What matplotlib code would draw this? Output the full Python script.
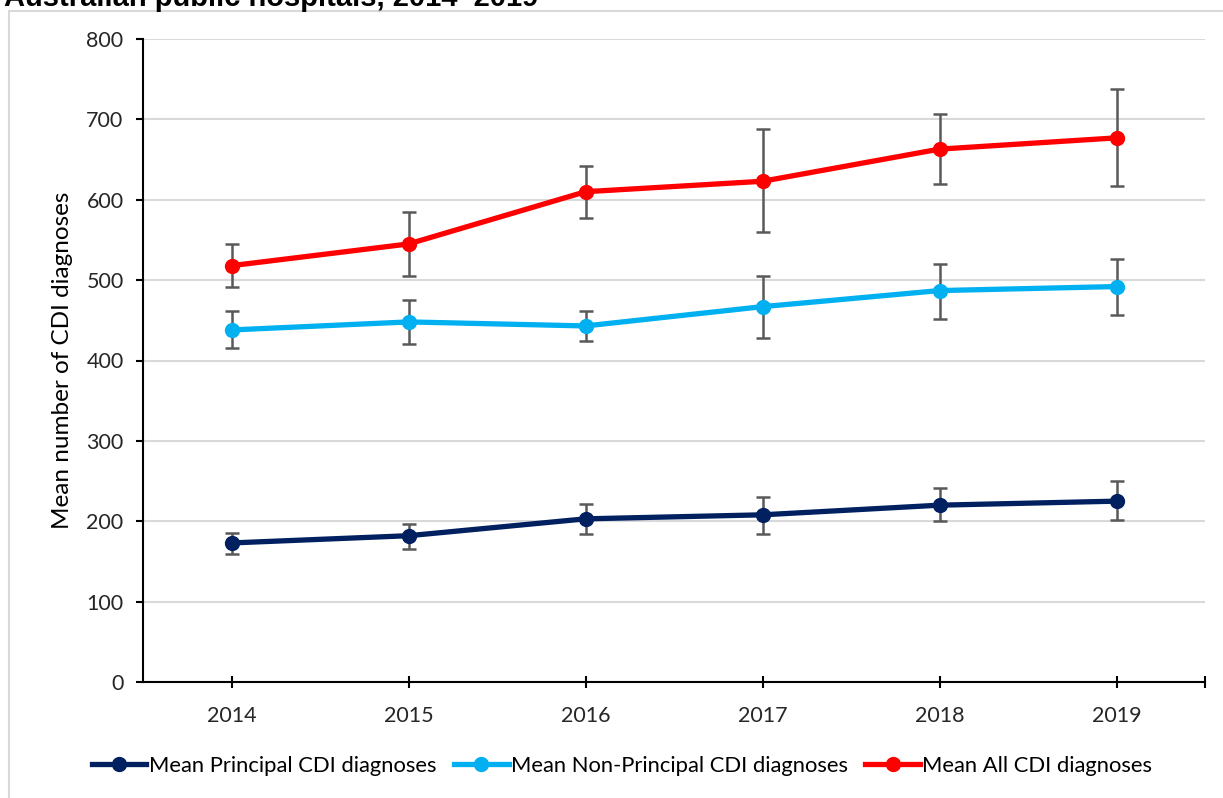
import numpy as np
import matplotlib
matplotlib.use('Agg')
from matplotlib import pyplot as plt
from matplotlib.patches import Rectangle

# data
years = ['2014', '2015', '2016', '2017', '2018', '2019']

principal = [173, 182, 203, 208, 220, 225]
principal_lo = [159, 165, 184, 184, 200, 202]
principal_hi = [186, 197, 221, 230, 241, 250]

non_principal = [438, 448, 443, 467, 487, 492]
non_principal_lo = [415, 421, 424, 428, 452, 457]
non_principal_hi = [462, 475, 462, 505, 520, 526]

all_cdi = [518, 545, 610, 623, 663, 677]
all_cdi_lo = [492, 505, 577, 560, 620, 617]
all_cdi_hi = [545, 585, 642, 688, 707, 738]

series = [
    ('Mean Principal CDI diagnoses', principal, principal_lo, principal_hi, '#002060'),
    ('Mean Non-Principal CDI diagnoses', non_principal, non_principal_lo, non_principal_hi, '#00B0F0'),
    ('Mean All CDI diagnoses', all_cdi, all_cdi_lo, all_cdi_hi, '#FF0000'),
]

plt.rcParams['font.family'] = ['Lato', 'DejaVu Sans']

fig = plt.figure(figsize=(12.23, 7.98), dpi=100)
ax = fig.add_axes([143 / 1223, 1 - 682 / 798, 1062 / 1223, 643 / 798])

# outer chart border (clipped at right/bottom like the source)
fig.patches.append(Rectangle((9 / 1223, -0.1), 1.2, 1 - 11 / 798 + 0.1,
                             transform=fig.transFigure, fill=False,
                             edgecolor='#D9D9D9', lw=1.5, zorder=0))

fig.text(4 / 1223, 1 - 6 / 798, 'Australian public hospitals, 2014\u20132019',
         family='Liberation Sans', weight='bold', fontsize=21, va='baseline')

x = np.arange(len(years))
for label, vals, lo, hi, col in series:
    vals = np.array(vals)
    err = [vals - np.array(lo), np.array(hi) - vals]
    ax.errorbar(x, vals, yerr=err, fmt='none', ecolor='#595959',
                elinewidth=1.8, capsize=5, capthick=1.8, zorder=2)
    ax.plot(x, vals, color=col, lw=3.8, marker='o', markersize=10,
            label=label, zorder=3)

ax.set_xlim(-0.5, 5.5)
ax.set_ylim(0, 800)
ax.set_yticks(np.arange(0, 801, 100))
ax.set_xticks(x)
ax.set_xticklabels(years)
ax.set_xticks([5.5], minor=True)
ax.yaxis.grid(True, color='#D9D9D9', lw=1.5)
ax.set_axisbelow(True)

for s in ['top', 'right']:
    ax.spines[s].set_visible(False)
for s in ['left', 'bottom']:
    ax.spines[s].set_linewidth(1.5)

ax.tick_params(axis='x', which='both', direction='inout', length=8, width=1.5,
               pad=13, labelsize=15.5, labelcolor='#262626')
ax.tick_params(axis='y', direction='out', length=5, width=1.5, pad=9,
               labelsize=15.5, labelcolor='#262626')

ax.set_ylabel('Mean number of CDI diagnoses', fontsize=17.5)
ax.yaxis.set_label_coords(-0.076, 0.5)
ax.yaxis.label.set_va('center')

leg = fig.legend(loc='center', bbox_to_anchor=(622 / 1223, 1 - 766 / 798), ncol=3,
                 frameon=False, fontsize=15.8, handlelength=2.5,
                 handletextpad=0.1, columnspacing=0.8)

fig.savefig('out.png', dpi=100)
